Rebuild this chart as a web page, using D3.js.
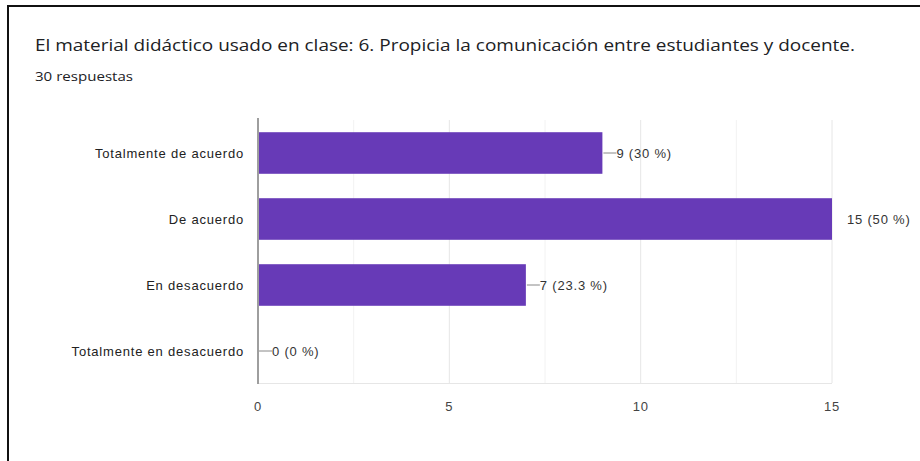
<!DOCTYPE html>
<html>
<head>
<meta charset="utf-8">
<script src="https://cdn.jsdelivr.net/npm/d3@7"></script>
<style>
  body { margin: 0; background: #fff; }
  svg { display: block; }
</style>
</head>
<body>
<script>
const categories = ["Totalmente de acuerdo", "De acuerdo", "En desacuerdo", "Totalmente en desacuerdo"];
const counts = [9, 15, 7, 0];
const percents = ["30 %", "50 %", "23.3 %", "0 %"];
const ticks = [0, 5, 10, 15];
const gridSteps = [2.5, 5, 7.5, 10, 12.5, 15];

const width = 920, height = 461;
const svg = d3.select("body").append("svg").attr("width", width).attr("height", height);

// frame (left + top edges of the screenshot card)
svg.append("path")
  .attr("d", `M8,${height} V6 H${width}`)
  .attr("fill", "none").attr("stroke", "#111").attr("stroke-width", 2);

svg.append("text")
  .attr("x", 35).attr("y", 51)
  .attr("font-family", "Open Sans, sans-serif").attr("font-size", 17)
  .attr("fill", "#202124")
  .attr("textLength", 820).attr("lengthAdjust", "spacingAndGlyphs")
  .text("El material didáctico usado en clase: 6. Propicia la comunicación entre estudiantes y docente.");

svg.append("text")
  .attr("x", 35).attr("y", 81)
  .attr("font-family", "Open Sans, sans-serif").attr("font-size", 12)
  .attr("fill", "#202124")
  .attr("textLength", 98).attr("lengthAdjust", "spacingAndGlyphs")
  .text("30 respuestas");

const x = d3.scaleLinear().domain([0, 15]).range([258, 832]);
const y = d3.scaleBand().domain(categories).range([120, 384]).paddingInner(0.37).paddingOuter(0.185);

const g = svg.append("g")
  .attr("font-family", "Liberation Sans, Arial, sans-serif")
  .attr("font-size", 13).attr("letter-spacing", 0.8);

// gridlines
g.selectAll(".grid").data(gridSteps).enter().append("line")
  .attr("x1", d => x(d)).attr("x2", d => x(d))
  .attr("y1", 120).attr("y2", 383)
  .attr("stroke", d => d % 5 === 0 ? "#e6e6e6" : "#f2f2f2");

g.append("line").attr("x1", 258).attr("x2", 832).attr("y1", 383.5).attr("y2", 383.5).attr("stroke", "#e6e6e6");

// bars
g.selectAll(".bar").data(counts).enter().append("rect")
  .attr("x", x(0))
  .attr("y", (d, i) => y(categories[i]))
  .attr("width", d => x(d) - x(0))
  .attr("height", y.bandwidth())
  .attr("fill", "#673ab7");

// y axis line
g.append("line").attr("x1", 258).attr("x2", 258).attr("y1", 118).attr("y2", 384)
  .attr("stroke", "#9e9e9e").attr("stroke-width", 2);

// category labels
g.selectAll(".cat").data(categories).enter().append("text")
  .attr("x", 244).attr("y", d => y(d) + y.bandwidth() / 2)
  .attr("dy", "0.35em").attr("text-anchor", "end").attr("fill", "#222")
  .text(d => d);

// value labels with leader lines
const maxV = d3.max(counts);
counts.forEach((v, i) => {
  const cy = y(categories[i]) + y.bandwidth() / 2;
  if (v < maxV) {
    g.append("line").attr("x1", x(v) + 1).attr("x2", x(v) + 14)
      .attr("y1", cy).attr("y2", cy).attr("stroke", "#888");
  }
  g.append("text")
    .attr("x", x(v) + (v < maxV ? 14 : 15)).attr("y", cy).attr("dy", "0.35em")
    .attr("fill", "#333")
    .text(`${v} (${percents[i]})`);
});

// x ticks
g.selectAll(".tick").data(ticks).enter().append("text")
  .attr("x", d => x(d)).attr("y", 406).attr("dy", "0.35em")
  .attr("text-anchor", "middle").attr("fill", "#444")
  .text(d => d);
</script>
</body>
</html>
